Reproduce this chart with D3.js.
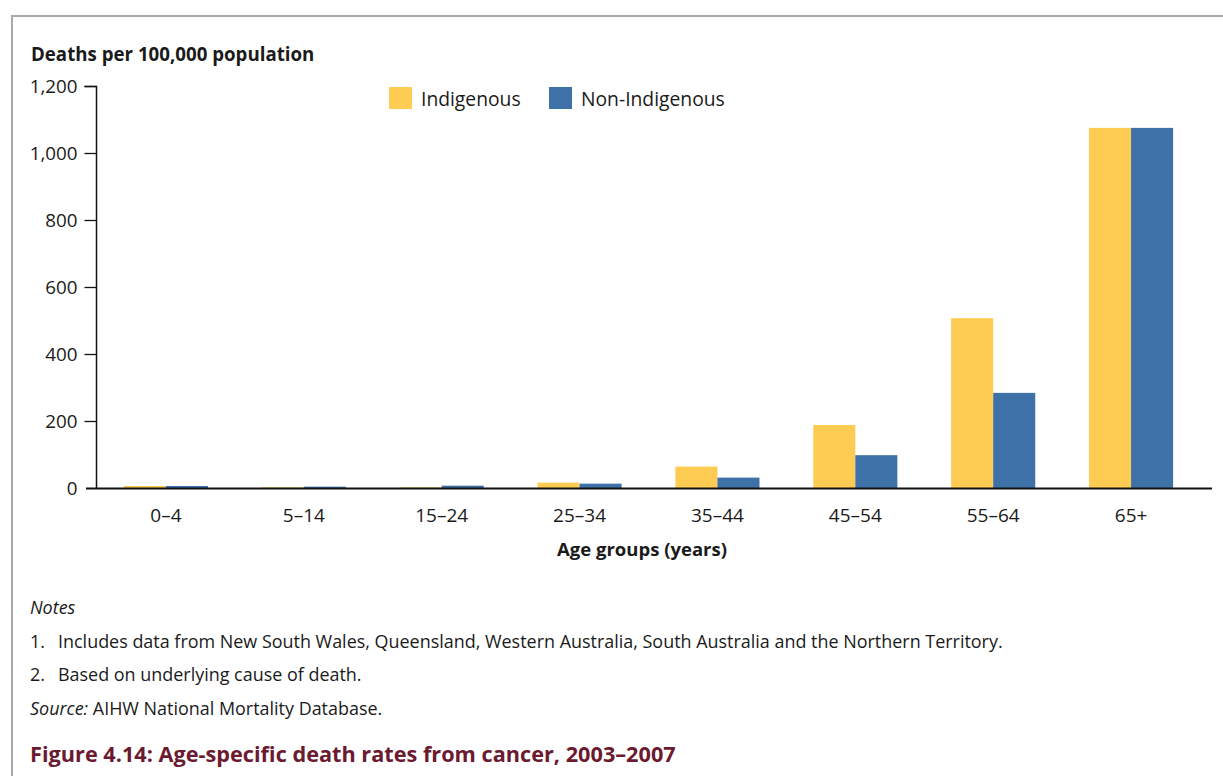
<!DOCTYPE html>
<html>
<head>
<meta charset="utf-8">
<script src="https://cdn.jsdelivr.net/npm/d3@7"></script>
<style>
  html, body { margin: 0; padding: 0; background: #fff; }
  svg { display: block; }
  text { font-family: "Open Sans", "Noto Sans", sans-serif; fill: #1a1a1a; }
</style>
</head>
<body>
<svg id="chart" width="1223" height="776"></svg>
<script>
const categories = ["0–4", "5–14", "15–24", "25–34", "35–44", "45–54", "55–64", "65+"];
const seriesNames = ["Indigenous", "Non-Indigenous"];
const indigenous = [6, 2, 2, 16, 64, 188, 507, 1075];
const nonIndigenous = [6, 4, 7, 13, 31, 98, 284, 1075];
const yTicks = [0, 200, 400, 600, 800, 1000, 1200];
const colors = ["#FECC53", "#3E71A7"];

const svg = d3.select("#chart");
const W = 1223, H = 776;

// frame
svg.append("path")
  .attr("d", `M12,${H} L12,16 L${W},16`)
  .attr("fill", "none").attr("stroke", "#a9a9ad").attr("stroke-width", 2);

const x0 = d3.scaleBand().domain(categories).range([97, 1200]).paddingInner(0.39).paddingOuter(0.195);
const x1 = d3.scaleBand().domain(seriesNames).range([0, x0.bandwidth()]);
const y = d3.scaleLinear().domain([0, 1200]).range([488, 86]);

const data = categories.map((c, i) => ({ cat: c, vals: [indigenous[i], nonIndigenous[i]] }));

// bars
const g = svg.append("g");
g.selectAll("g.grp").data(data).join("g")
  .attr("transform", d => `translate(${x0(d.cat)},0)`)
  .selectAll("rect").data(d => d.vals.map((v, j) => ({ name: seriesNames[j], v, j })))
  .join("rect")
  .attr("x", d => x1(d.name))
  .attr("width", x1.bandwidth())
  .attr("y", d => y(d.v))
  .attr("height", d => y(0) - y(d.v))
  .attr("fill", d => colors[d.j]);

// y axis
const yAxis = d3.axisLeft(y).tickValues(yTicks).tickSize(12).tickPadding(7)
  .tickFormat(d => d === 0 ? "" : d3.format(",")(d));
const ya = svg.append("g").attr("transform", "translate(96.5,0)").call(yAxis);
ya.select(".domain").attr("d", `M-12,${y(1200)}.5 H0 V${y(0)}`).attr("stroke", "#111").attr("stroke-width", 1.5);
ya.selectAll(".tick line").attr("stroke", "#111").attr("stroke-width", 1.3);
ya.selectAll(".tick text").style("font-size", "18.8px").attr("fill", "#1a1a1a").style("font-family", "'Open Sans', sans-serif");
ya.selectAll(".tick").filter(d => d === 0).select("line").remove();
// zero label
ya.append("text").attr("x", -19).attr("y", y(0)).attr("dy", "0.35em")
  .attr("text-anchor", "end").style("font-size", "18.8px").text("0");

// x axis baseline
svg.append("line").attr("x1", 86).attr("x2", 1212).attr("y1", 488.5).attr("y2", 488.5)
  .attr("stroke", "#111").attr("stroke-width", 2);

const xAxis = d3.axisBottom(x0).tickSize(0).tickPadding(21);
const xa = svg.append("g").attr("transform", "translate(0,488)").call(xAxis);
xa.select(".domain").remove();
xa.selectAll(".tick text").style("font-size", "19px").attr("fill", "#1a1a1a").style("font-family", "'Open Sans', sans-serif");

// axis titles
svg.append("text").attr("x", 31).attr("y", 61).style("font-size", "18.7px").style("font-weight", "bold")
  .text("Deaths per 100,000 population");
svg.append("text").attr("x", 642).attr("y", 556).attr("text-anchor", "middle")
  .style("font-size", "18.5px").style("font-weight", "bold").text("Age groups (years)");

// legend
const legendX = [389, 549];
seriesNames.forEach((n, i) => {
  svg.append("rect").attr("x", legendX[i]).attr("y", 87).attr("width", 23).attr("height", 22).attr("fill", colors[i]);
  svg.append("text").attr("x", legendX[i] + 32).attr("y", 106).style("font-size", "19.3px").text(n);
});

// notes
const notes = svg.append("g").style("font-size", "17.95px");
notes.append("text").attr("x", 30).attr("y", 614).style("font-style", "italic").attr("fill", "#333").text("Notes");
notes.append("text").attr("x", 30).attr("y", 648).attr("fill", "#333").text("1.");
notes.append("text").attr("x", 58).attr("y", 648).attr("fill", "#333")
  .text("Includes data from New South Wales, Queensland, Western Australia, South Australia and the Northern Territory.");
notes.append("text").attr("x", 30).attr("y", 681).attr("fill", "#333").text("2.");
notes.append("text").attr("x", 58).attr("y", 681).attr("fill", "#333").text("Based on underlying cause of death.");
const src = notes.append("text").attr("x", 30).attr("y", 715).attr("fill", "#333");
src.append("tspan").style("font-style", "italic").text("Source:");
src.append("tspan").text(" AIHW National Mortality Database.");

// title
svg.append("text").attr("x", 30).attr("y", 762).style("font-size", "21.7px").style("font-weight", "bold")
  .attr("fill", "#6b1a2f").style("fill", "#6b1a2f")
  .text("Figure 4.14: Age-specific death rates from cancer, 2003–2007");
</script>
</body>
</html>
